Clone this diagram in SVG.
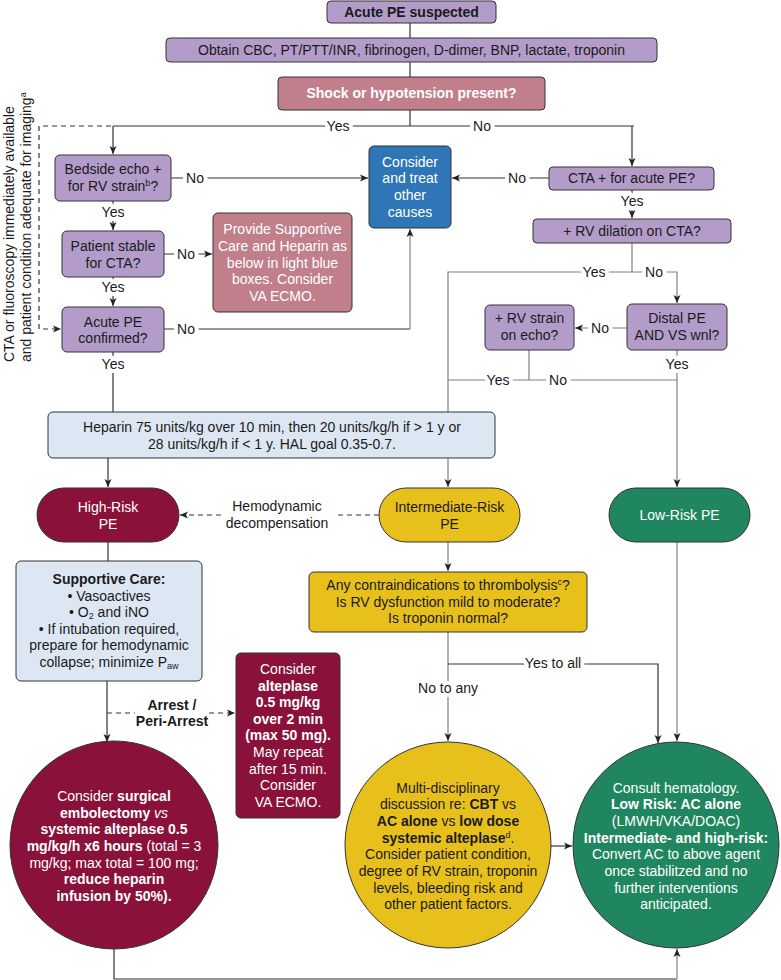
<svg xmlns="http://www.w3.org/2000/svg" width="781" height="980" viewBox="0 0 781 980">
<defs>
<style>
.t{font-family:"Liberation Sans",Arial,Helvetica,sans-serif;font-size:14px;fill:#1a1a1a;text-anchor:middle}
.w{fill:#fff}
.b{font-weight:bold}
.n{font-weight:normal}
.i{font-style:italic}
.bx{stroke:#333;stroke-width:1}
.pu{fill:#b39cc9}
.ro{fill:#c07f8a}
.bl{fill:#2f76b7}
.lb{fill:#dde7f3}
.rd{fill:#8a1139}
.ye{fill:#e8c01b}
.gr{fill:#1f865f}
.c{fill:none;stroke:#333;stroke-width:1.2}
.g{stroke:#808080}
.d{stroke-dasharray:5 4}
.lbl{stroke:#fff;stroke-width:8px;paint-order:stroke;stroke-linejoin:round}
.sup{font-size:9px}
</style>
<marker id="ah" markerUnits="userSpaceOnUse" markerWidth="9" markerHeight="8" refX="8" refY="4" orient="auto"><path d="M0,0.5 L8,4 L0,7.5 L2,4 z" fill="#222"/></marker>
</defs>
<rect width="781" height="980" fill="#fff"/>

<g id="connectors">
<path class="c" d="M410,23 V38"/>
<path class="c" d="M410,62 V77"/>
<path class="c" d="M410,110 V126"/>
<path class="c" d="M113,126 H634"/>
<path class="c" d="M113,126 V154" marker-end="url(#ah)"/>
<path class="c" d="M632,126 V166" marker-end="url(#ah)"/>
<path class="c d" d="M111,126 H39 V329 H61" marker-end="url(#ah)"/>
<path class="c" d="M171,178 H368" marker-end="url(#ah)"/>
<path class="c" d="M113,201 V230" marker-end="url(#ah)"/>
<path class="c" d="M164,254 H212" marker-end="url(#ah)"/>
<path class="c" d="M113,277 V306" marker-end="url(#ah)"/>
<path class="c" d="M164,329 H410"/>
<path class="c g" d="M410,329 V229" marker-end="url(#ah)"/>
<path class="c" d="M113,352 V412"/>
<path class="c" d="M549,178 H452" marker-end="url(#ah)"/>
<path class="c" d="M632,190 V218" marker-end="url(#ah)"/>
<path class="c g" d="M632,243 V272 H448 V412"/>
<path class="c g" d="M632,272 H677 V303" marker-end="url(#ah)"/>
<path class="c g" d="M627,328 H575" marker-end="url(#ah)"/>
<path class="c g" d="M529,350 V380"/>
<path class="c g" d="M448,380 H677"/>
<path class="c g" d="M677,350 V487" marker-end="url(#ah)"/>
<path class="c" d="M108,458 V487" marker-end="url(#ah)"/>
<path class="c g" d="M448,458 V487" marker-end="url(#ah)"/>
<path class="c d" d="M379,515 H335 M221,515 H180" marker-end="url(#ah)"/>
<path class="c" d="M108,542 V561"/>
<path class="c g" d="M448,542 V571" marker-end="url(#ah)"/>
<path class="c" d="M107,681 V742" marker-end="url(#ah)"/>
<path class="c d" d="M107,713 H135 M209,713 H235" marker-end="url(#ah)"/>
<path class="c g" d="M448,632 V741" marker-end="url(#ah)"/>
<path class="c" d="M448,664 H658 V743" marker-end="url(#ah)"/>
<path class="c g" d="M677,542 V741" marker-end="url(#ah)"/>
<path class="c" d="M551,846 H572" marker-end="url(#ah)"/>
<path class="c" d="M114,949 V979 H677"/>
<path class="c g" d="M677,979 V949" marker-end="url(#ah)"/>
<text class="t lbl" x="338" y="131">Yes</text>
<text class="t lbl" x="482" y="131">No</text>
<text class="t lbl" x="195" y="183">No</text>
<text class="t lbl" x="113" y="217">Yes</text>
<text class="t lbl" x="186" y="259">No</text>
<text class="t lbl" x="113" y="292">Yes</text>
<text class="t lbl" x="186" y="334">No</text>
<text class="t lbl" x="113" y="369">Yes</text>
<text class="t lbl" x="517" y="183">No</text>
<text class="t lbl" x="632" y="206">Yes</text>
<text class="t lbl" x="594" y="277">Yes</text>
<text class="t lbl" x="654" y="277">No</text>
<text class="t lbl" x="600" y="333">No</text>
<text class="t lbl" x="677" y="369">Yes</text>
<text class="t lbl" x="498" y="385">Yes</text>
<text class="t lbl" x="558" y="385">No</text>
<text class="t" x="277" y="511">Hemodynamic</text>
<text class="t" x="277" y="528">decompensation</text>
<text class="t b" x="172" y="710">Arrest /</text>
<text class="t b" x="172" y="726">Peri-Arrest</text>
<text class="t lbl" x="553" y="668">Yes to all</text>
<text class="t lbl" x="448" y="693">No to any</text>
<text class="t" transform="translate(13.5,362) rotate(-90)" style="text-anchor:start">CTA or fluoroscopy immediately available</text>
<text class="t" transform="translate(30.5,362) rotate(-90)" style="text-anchor:start">and patient condition adequate for imaging<tspan class="sup" baseline-shift="5">a</tspan></text>
</g>

<g id="acute-pe-suspected">
<rect class="bx pu" x="327" y="1" width="169" height="22" rx="4"/>
<text class="t b" x="411.5" y="17">Acute PE suspected</text>
</g>
<g id="obtain-labs">
<rect class="bx pu" x="166" y="38" width="491" height="24" rx="4"/>
<text class="t" x="411.5" y="55">Obtain CBC, PT/PTT/INR, fibrinogen, D-dimer, BNP, lactate, troponin</text>
</g>
<g id="shock">
<rect class="bx ro" x="278" y="77" width="267" height="33" rx="4"/>
<text class="t b w" x="411.5" y="98">Shock or hypotension present?</text>
</g>
<g id="bedside-echo">
<rect class="bx pu" x="55" y="155" width="116" height="46" rx="5"/>
<text class="t" x="113" y="174">Bedside echo +</text>
<text class="t" x="113" y="191">for RV strain<tspan class="sup" baseline-shift="5">b</tspan>?</text>
</g>
<g id="patient-stable">
<rect class="bx pu" x="62" y="231" width="102" height="46" rx="5"/>
<text class="t" x="113" y="251">Patient stable</text>
<text class="t" x="113" y="268">for CTA?</text>
</g>
<g id="provide-supportive">
<rect class="bx ro" x="213" y="213" width="139" height="99" rx="5"/>
<text class="t w" x="282.5" y="234">Provide Supportive</text>
<text class="t w" x="282.5" y="251">Care and Heparin as</text>
<text class="t w" x="282.5" y="268">below in light blue</text>
<text class="t w" x="282.5" y="284">boxes. Consider</text>
<text class="t w" x="282.5" y="301">VA ECMO.</text>
</g>
<g id="acute-pe-confirmed">
<rect class="bx pu" x="62" y="307" width="102" height="45" rx="5"/>
<text class="t" x="113" y="327">Acute PE</text>
<text class="t" x="113" y="343">confirmed?</text>
</g>
<g id="consider-other">
<rect class="bx bl" x="369" y="146" width="82" height="82" rx="5"/>
<text class="t w" x="410" y="167">Consider</text>
<text class="t w" x="410" y="183">and treat</text>
<text class="t w" x="410" y="200">other</text>
<text class="t w" x="410" y="217">causes</text>
</g>
<g id="cta-positive">
<rect class="bx pu" x="549" y="167" width="165" height="23" rx="4"/>
<text class="t" x="631.5" y="183">CTA + for acute PE?</text>
</g>
<g id="rv-dilation">
<rect class="bx pu" x="533" y="219" width="198" height="24" rx="4"/>
<text class="t" x="632" y="236">+ RV dilation on CTA?</text>
</g>
<g id="distal-pe">
<rect class="bx pu" x="627" y="304" width="100" height="46" rx="5"/>
<text class="t" x="677" y="323">Distal PE</text>
<text class="t" x="677" y="340">AND VS wnl?</text>
</g>
<g id="rv-strain-echo">
<rect class="bx pu" x="485" y="305" width="89" height="45" rx="5"/>
<text class="t" x="529.5" y="323">+ RV strain</text>
<text class="t" x="529.5" y="340">on echo?</text>
</g>
<g id="heparin">
<rect class="bx lb" x="48" y="412" width="447" height="46" rx="5"/>
<text class="t" x="272" y="432">Heparin 75 units/kg over 10 min, then 20 units/kg/h if &gt; 1 y or</text>
<text class="t" x="272" y="449">28 units/kg/h if &lt; 1 y. HAL goal 0.35-0.7.</text>
</g>
<g id="high-risk">
<rect class="bx rd" x="37" y="488" width="142" height="54" rx="27"/>
<text class="t w" x="108" y="512">High-Risk</text>
<text class="t w" x="108" y="529">PE</text>
</g>
<g id="intermediate-risk">
<rect class="bx ye" x="379" y="488" width="141" height="54" rx="27"/>
<text class="t" x="449.5" y="512">Intermediate-Risk</text>
<text class="t" x="449.5" y="529">PE</text>
</g>
<g id="low-risk">
<rect class="bx gr" x="609" y="488" width="141" height="54" rx="27"/>
<text class="t w" x="679.5" y="520">Low-Risk PE</text>
</g>
<g id="supportive-care">
<rect class="bx lb" x="16" y="561" width="186" height="120" rx="5"/>
<text class="t b" x="109" y="584">Supportive Care:</text>
<text class="t" x="109" y="601">• Vasoactives</text>
<text class="t" x="109" y="617">• O<tspan class="sup" baseline-shift="-2">2</tspan> and iNO</text>
<text class="t" x="109" y="634">• If intubation required,</text>
<text class="t" x="109" y="650">prepare for hemodynamic</text>
<text class="t" x="109" y="667">collapse; minimize P<tspan class="sup" baseline-shift="-2">aw</tspan></text>
</g>
<g id="alteplase-arrest">
<rect class="bx rd" x="236" y="653" width="104" height="165" rx="5"/>
<text class="t w" x="288" y="674">Consider</text>
<text class="t w b" x="288" y="691">alteplase</text>
<text class="t w b" x="288" y="707">0.5 mg/kg</text>
<text class="t w b" x="288" y="724">over 2 min</text>
<text class="t w b" x="288" y="740">(max 50 mg).</text>
<text class="t w" x="288" y="757">May repeat</text>
<text class="t w" x="288" y="774">after 15 min.</text>
<text class="t w" x="288" y="790">Consider</text>
<text class="t w" x="288" y="807">VA ECMO.</text>
</g>
<g id="contraindications">
<rect class="bx ye" x="309" y="572" width="278" height="60" rx="5"/>
<text class="t" x="448" y="590">Any contraindications to thrombolysis<tspan class="sup" baseline-shift="5">c</tspan>?</text>
<text class="t" x="448" y="607">Is RV dysfunction mild to moderate?</text>
<text class="t" x="448" y="623">Is troponin normal?</text>
</g>
<g id="high-risk-treatment">
<circle class="bx rd" cx="114" cy="845" r="104"/>
<text class="t w" x="114" y="801">Consider <tspan class="b">surgical</tspan></text>
<text class="t w" x="114" y="818"><tspan class="b">embolectomy</tspan> <tspan class="i">vs</tspan></text>
<text class="t w b" x="114" y="834">systemic alteplase 0.5</text>
<text class="t w" x="114" y="851"><tspan class="b">mg/kg/h x6 hours</tspan> (total = 3</text>
<text class="t w" x="114" y="868">mg/kg; max total = 100 mg;</text>
<text class="t w b" x="114" y="884">reduce heparin</text>
<text class="t w b" x="114" y="901">infusion by 50%).</text>
</g>
<g id="intermediate-treatment">
<circle class="bx ye" cx="448" cy="845" r="103"/>
<text class="t" x="448" y="793">Multi-disciplinary</text>
<text class="t" x="448" y="809">discussion re: <tspan class="b">CBT</tspan> vs</text>
<text class="t" x="448" y="826"><tspan class="b">AC alone</tspan> vs <tspan class="b">low dose</tspan></text>
<text class="t" x="448" y="843"><tspan class="b">systemic alteplase</tspan><tspan class="sup" baseline-shift="5">d</tspan>.</text>
<text class="t" x="448" y="859">Consider patient condition,</text>
<text class="t" x="448" y="876">degree of RV strain, troponin</text>
<text class="t" x="448" y="893">levels, bleeding risk and</text>
<text class="t" x="448" y="909">other patient factors.</text>
</g>
<g id="low-risk-treatment">
<circle class="bx gr" cx="676" cy="845" r="103"/>
<text class="t w" x="676" y="793">Consult hematology.</text>
<text class="t w b" x="676" y="809">Low Risk: AC alone</text>
<text class="t w" x="676" y="826">(LMWH/VKA/DOAC)</text>
<text class="t w b" x="676" y="843">Intermediate- and high-risk:</text>
<text class="t w" x="676" y="859">Convert AC to above agent</text>
<text class="t w" x="676" y="876">once stabilitzed and no</text>
<text class="t w" x="676" y="893">further interventions</text>
<text class="t w" x="676" y="909">anticipated.</text>
</g>
</svg>
